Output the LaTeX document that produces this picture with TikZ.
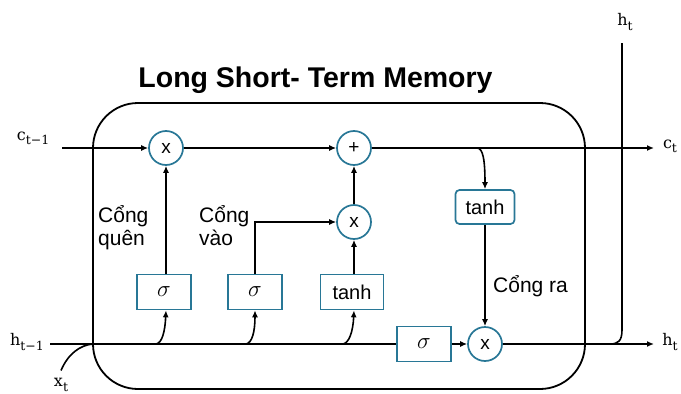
\RequirePackage{fix-cm}
\documentclass[tikz,border=0pt]{standalone}
\usepackage{fontspec}
\setsansfont{Liberation Sans}
\newfontfamily\varfont{DejaVu Serif}
\usetikzlibrary{arrows.meta}
\definecolor{gatecol}{RGB}{40,119,150}
\newcommand\varlab[2]{#1\raisebox{-0.26em}{\fontsize{12.5}{12.5}\selectfont #2}}
\begin{document}
\begin{tikzpicture}[x=1pt,y=-1pt,
  line/.style={line width=1.6pt, black},
  arr/.style={line, -{Latex[length=7pt,width=6pt]}},
  op/.style={circle, draw=gatecol, line width=1.7pt, minimum size=34pt, inner sep=0pt, fill=white, font=\sffamily\fontsize{19}{19}\selectfont},
  gate/.style={rectangle, draw=gatecol, line width=1.7pt, minimum height=35pt, inner sep=0pt, fill=white},
  sig/.style={gate, minimum width=54pt, font=\fontsize{23}{23}\selectfont},
  th/.style={gate, font=\sffamily\fontsize{20}{20}\selectfont},
  lbl/.style={font=\sffamily\fontsize{21}{23}\selectfont, align=left, inner sep=0pt},
  var/.style={font=\varfont\fontsize{16}{16}\selectfont, inner sep=0pt}
]
\useasboundingbox (0,0) rectangle (681,394);
% frame
\draw[line, line width=1.8pt, rounded corners=45pt] (93,103) rectangle (585,389);
\node[anchor=base, inner sep=0pt, font=\sffamily\bfseries\fontsize{28.5}{30}\selectfont] (title) at (315.5,87) {Long Short- Term Memory};

% operators and gates
\node[op] (mf) at (166,148) {x};
\node[op] (add) at (354,148) {+};
\node[op] (mi) at (354,222) {x};
\node[op] (mo) at (485,344) {x};
\node[sig] (sf) at (164,292) {$\sigma$};
\node[sig] (si) at (255,292) {$\sigma$};
\node[th, minimum width=63pt] (ti) at (352,292) {tanh};
\node[sig] (so) at (424,344) {$\sigma$};
\node[th, rounded corners=4pt, minimum width=59pt, minimum height=34pt] (to) at (485,207) {tanh};

% variable labels
\node[var] (cin) at (33,138) {\varlab{c}{t−1}};
\node[var] (hin) at (27,342) {\varlab{h}{t−1}};
\node[var] (xt) at (61,385) {\varlab{x}{t}};
\node[var] (cout) at (670,146) {\varlab{c}{t}};
\node[var] (hout) at (670,342) {\varlab{h}{t}};
\node[var] (htopl) at (625,22) {\varlab{h}{t}};

% gate labels
\node[lbl, anchor=base west] (lq) at (98,245) {Cổng\\quên};
\node[lbl, anchor=base west] (lv) at (199,245) {Cổng\\vào};
\node[lbl, anchor=base west] (lr) at (493,292) {Cổng ra};

% coordinates
\coordinate (cstart) at (62,148);
\coordinate (cend) at (654,148);
\coordinate (hstart) at (50,344);
\coordinate (hend) at (654,344);
\coordinate (cb) at (477,148);
\coordinate (b1) at (156,344);
\coordinate (b2) at (246,344);
\coordinate (b3) at (343,344);
\coordinate (hb) at (610,344);
\coordinate (htop) at (622,43);
\coordinate (xj) at (93,344);

% cell state line
\draw[arr] (cstart) -- (mf);
\draw[arr] (mf) -- (add);
\draw[arr] (add) -- (cend);
% hidden line
\draw[line] (hstart) -- (so);
\draw[arr] (so) -- (mo);
\draw[arr] (mo) -- (hend);
% gates
\draw[arr] (sf.north -| mf) -- (mf);
\draw[arr] (si.north) |- (mi);
\draw[arr] (ti.north -| mi) -- (mi);
\draw[arr] (mi) -- (add);
\draw[arr] (cb) .. controls (483,148) and (485,160) .. (to.north);
\draw[arr] (to) -- (mo);
% inputs from h line
\draw[arr] (b1) .. controls (162,343) and (165,332) .. (sf.south -| mf);
\draw[arr] (b2) .. controls (252,343) and (255,332) .. (si.south);
\draw[arr] (b3) .. controls (349,343) and (353,332) .. (ti.south -| mi);
% h_t upward
\draw[line] (hb) .. controls (618,344) and (622,341) .. (622,330) -- (htop);
% x_t
\draw[line] ([yshift=8pt]xt.north) .. controls (68,354) and (80,345) .. (xj);
\end{tikzpicture}
\end{document}
